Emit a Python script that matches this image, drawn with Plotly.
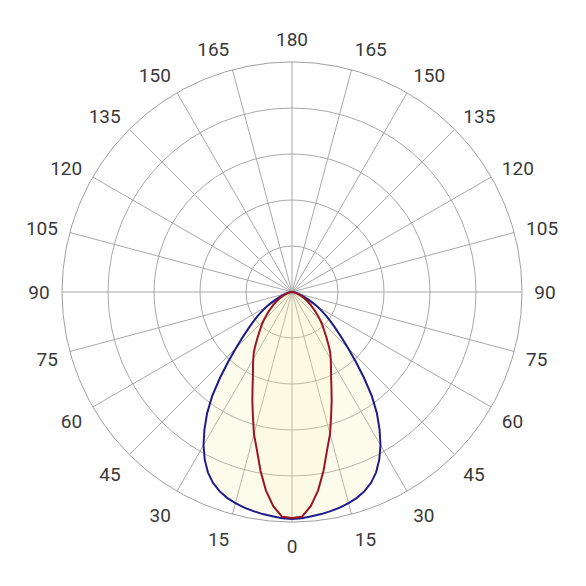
import plotly.graph_objects as go

# Angles (degrees from nadir) and intensities
angles_blue = [0, 2.5, 5, 7.5, 10, 12.5, 15, 17.5, 20, 22.5, 25, 27.5, 30, 32.5, 35, 37.5,
               40, 42.5, 45, 47.5, 50, 52.5, 55, 57.5, 60, 62.5, 65, 67.5, 70, 75, 80, 85, 90]
values_blue = [246.7, 246.2, 244.6, 243.5, 241.8, 240, 237.5, 234.6, 230.4, 224.5, 216.3,
               205.4, 192.4, 177.2, 160.9, 142.4, 121.7, 102.2, 85.9, 72.8, 62, 53.3, 45.7,
               38.6, 32.1, 25.5, 19.6, 15.2, 12, 7.6, 4.3, 2.2, 0]

angles_red = [0, 2.5, 5, 7.5, 10, 12.5, 15, 17.5, 20, 22.5, 25, 27.5, 30, 32.5, 35, 37.5,
              40, 42.5, 45, 47.5, 50, 55, 60, 65, 70, 75, 80, 85, 90]
values_red = [245.7, 244.6, 233.7, 217.4, 197.3, 176.1, 159.8, 141.3, 126.1, 112, 100.5,
              91.8, 84.2, 77.2, 68.5, 60.9, 54.3, 48.9, 43.5, 38, 33.7, 25, 18.5, 13, 8.7,
              4.9, 2.2, 1.1, 0]

tick_angles = list(range(0, 360, 15))
tick_labels = [str(a if a <= 180 else 360 - a) for a in tick_angles]
ring_values = [50, 100, 150, 200, 250]


def mirror(ang, val):
    th = [-a for a in reversed(ang)] + ang[1:]
    r = list(reversed(val)) + val[1:]
    return th, r


th_b, r_b = mirror(angles_blue, values_blue)
th_r, r_r = mirror(angles_red, values_red)

fig = go.Figure()
fig.add_trace(go.Scatterpolar(
    r=r_b, theta=th_b, mode="lines", line=dict(color="#1c1c8a", width=2, shape="linear"),
    fill="toself", fillcolor="rgba(245,240,160,0.2)", hoverinfo="skip", showlegend=False))
fig.add_trace(go.Scatterpolar(
    r=r_r, theta=th_r, mode="lines", line=dict(color="#9c1424", width=2, shape="linear"),
    fill="toself", fillcolor="rgba(245,240,160,0.12)", hoverinfo="skip", showlegend=False))

fig.update_layout(
    width=586, height=586,
    margin=dict(l=54, r=72, t=54, b=72),
    paper_bgcolor="white",
    font=dict(family="Roboto", size=19, color="#3a3a3a"),
    polar=dict(
        bgcolor="white",
        domain=dict(x=[0, 1], y=[0, 1]),
        radialaxis=dict(range=[0, 250], tickvals=ring_values, showticklabels=False, ticks="",
                        gridcolor="#a8a8a8", gridwidth=1, showline=False, layer="above traces"),
        angularaxis=dict(rotation=270, direction="clockwise", tickmode="array",
                         tickvals=tick_angles, ticktext=tick_labels,
                         ticks="outside", ticklen=8, tickcolor="rgba(0,0,0,0)",
                         gridcolor="#a8a8a8", gridwidth=1, linecolor="#a0a0a0", linewidth=1,
                         layer="above traces"),
    ),
)

fig.write_html("out.html")
